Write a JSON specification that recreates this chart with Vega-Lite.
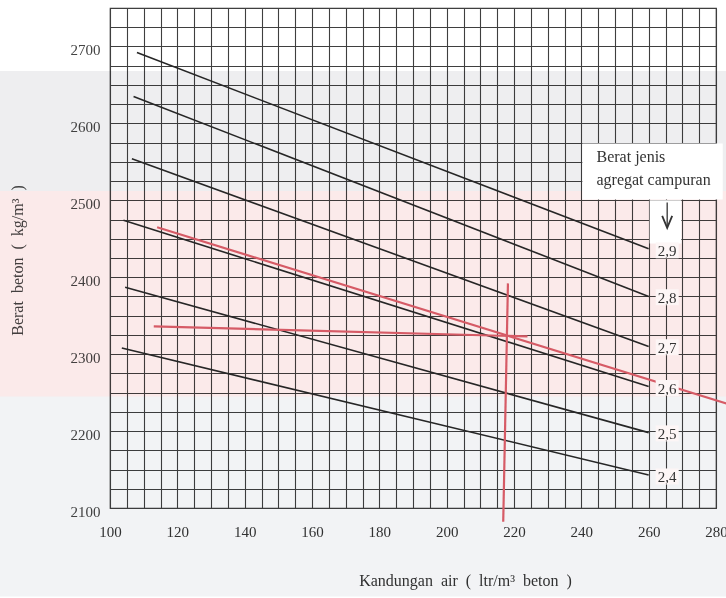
{
  "$schema": "https://vega.github.io/schema/vega-lite/v6.json",
  "width": 606,
  "height": 500,
  "autosize": {"type": "none"},
  "padding": {"left": 110, "top": 8, "right": 10, "bottom": 90},
  "background": "#ffffff",
  "config": {
    "view": {"stroke": "#3a3a3a", "strokeWidth": 1.2},
    "font": "Liberation Serif"
  },
  "datasets": {
    "tints": [
      {"band": "gray", "x": 67, "x2": 287, "y": 2512, "y2": 2668},
      {"band": "pink", "x": 67, "x2": 287, "y": 2245, "y2": 2512},
      {"band": "light", "x": 67, "x2": 287, "y": 1985, "y2": 2245}
    ],
    "curves": [
      {"s": "2,9", "x": 108, "y": 2692}, {"s": "2,9", "x": 260, "y": 2437},
      {"s": "2,8", "x": 107, "y": 2635}, {"s": "2,8", "x": 260, "y": 2375},
      {"s": "2,7", "x": 106.5, "y": 2554}, {"s": "2,7", "x": 260, "y": 2310},
      {"s": "2,6", "x": 104, "y": 2474}, {"s": "2,6", "x": 260, "y": 2258},
      {"s": "2,5", "x": 104.5, "y": 2387}, {"s": "2,5", "x": 260, "y": 2198},
      {"s": "2,4", "x": 103.5, "y": 2308}, {"s": "2,4", "x": 260, "y": 2143}
    ],
    "red": [
      {"id": "a", "x": 114, "y": 2465}, {"id": "a", "x": 286, "y": 2232},
      {"id": "b", "x": 113, "y": 2336}, {"id": "b", "x": 224, "y": 2323},
      {"id": "c", "x": 218.2, "y": 2392}, {"id": "c", "x": 216.8, "y": 2082}
    ],
    "labels": [
      {"t": "2,9", "x": 265.5, "y": 2435},
      {"t": "2,8", "x": 265.5, "y": 2374},
      {"t": "2,7", "x": 265.5, "y": 2309},
      {"t": "2,6", "x": 265.5, "y": 2256},
      {"t": "2,5", "x": 265.5, "y": 2197},
      {"t": "2,4", "x": 265.5, "y": 2141}
    ],
    "covers": [
      {"x": 240.3, "x2": 282, "y": 2501, "y2": 2574},
      {"x": 260.3, "x2": 269.7, "y": 2444, "y2": 2500}
    ],
    "boxtext": [
      {"t": "Berat jenis", "x": 244.5, "y": 2556},
      {"t": "agregat campuran", "x": 244.5, "y": 2526}
    ],
    "arrow": [
      {"x": 265.5, "y": 2497, "y2": 2467}
    ],
    "arrowhead": [
      {"x": 265.5, "y": 2472}
    ]
  },
  "encoding": {
    "x": {
      "field": "x", "type": "quantitative",
      "scale": {"domain": [100, 280], "nice": false, "zero": false},
      "axis": {
        "values": [100,105,110,115,120,125,130,135,140,145,150,155,160,165,170,175,180,185,190,195,200,205,210,215,220,225,230,235,240,245,250,255,260,265,270,275,280],
        "labelExpr": "datum.value % 20 === 0 ? '' + datum.value : ''",
        "grid": true, "gridColor": "#3f3f3f", "gridOpacity": 1, "gridWidth": 1.1,
        "ticks": false, "domain": false,
        "labelFont": "Liberation Serif", "labelFontSize": 15, "labelColor": "#333333",
        "labelPadding": 16, "labelOverlap": false, "labelBound": false, "labelFlush": false,
        "title": "Kandungan\u00a0\u00a0air\u00a0\u00a0(\u00a0\u00a0ltr/m³\u00a0\u00a0beton\u00a0\u00a0)",
        "titleFont": "Liberation Serif", "titleFontSize": 16, "titleFontWeight": "normal",
        "titleColor": "#333333", "titleX": 355, "titleY": 72, "titleBaseline": "middle", "titleAlign": "center"
      }
    },
    "y": {
      "field": "y", "type": "quantitative",
      "scale": {"domain": [2100, 2750], "nice": false, "zero": false},
      "axis": {
        "values": [2100,2125,2150,2175,2200,2225,2250,2275,2300,2325,2350,2375,2400,2425,2450,2475,2500,2525,2550,2575,2600,2625,2650,2675,2700,2725,2750],
        "labelExpr": "datum.value % 100 === 0 && datum.value < 2750 ? '' + datum.value : ''",
        "grid": true, "gridColor": "#3f3f3f", "gridOpacity": 1, "gridWidth": 1.1,
        "ticks": false, "domain": false,
        "labelFont": "Liberation Serif", "labelFontSize": 15, "labelColor": "#444444",
        "labelPadding": 10, "labelOffset": 3, "labelOverlap": false, "labelBound": false,
        "title": "Berat\u00a0\u00a0beton\u00a0\u00a0(\u00a0\u00a0kg/m³\u00a0\u00a0)",
        "titleFont": "Liberation Serif", "titleFontSize": 16, "titleFontWeight": "normal",
        "titleColor": "#444444", "titleX": -85, "titleY": 252, "titleAngle": 270,
        "titleBaseline": "bottom", "titleAlign": "center"
      }
    }
  },
  "layer": [
    {
      "data": {"name": "tints"},
      "mark": {"type": "rect", "stroke": null, "clip": false, "blend": "multiply", "opacity": 1},
      "encoding": {
        "x2": {"field": "x2"}, "y2": {"field": "y2"},
        "fill": {
          "field": "band", "type": "nominal", "legend": null,
          "scale": {"domain": ["gray", "pink", "light"], "range": ["#eeeef0", "#fbeaea", "#f2f3f5"]}
        }
      }
    },
    {
      "data": {"name": "covers"},
      "mark": {"type": "rect", "fill": "#ffffff", "stroke": null},
      "encoding": {"x2": {"field": "x2"}, "y2": {"field": "y2"}}
    },
    {
      "data": {"name": "curves"},
      "mark": {"type": "line", "color": "#262626", "strokeWidth": 1.6, "clip": false},
      "encoding": {"detail": {"field": "s"}}
    },
    {
      "data": {"name": "red"},
      "mark": {"type": "line", "color": "#d65b66", "strokeWidth": 2.2, "clip": false},
      "encoding": {"detail": {"field": "id"}}
    },
    {
      "data": {"name": "labels"},
      "mark": {"type": "point", "shape": "M-1.15,-0.8H1.15V0.8H-1.15Z", "size": 400, "filled": true, "fill": "#fdf6f6", "opacity": 1, "strokeWidth": 0}
    },
    {
      "data": {"name": "labels"},
      "mark": {"type": "text", "font": "Liberation Serif", "fontSize": 15, "color": "#333333", "align": "center", "baseline": "middle", "dy": 1},
      "encoding": {"text": {"field": "t"}}
    },
    {
      "data": {"name": "boxtext"},
      "mark": {"type": "text", "font": "Liberation Serif", "fontSize": 16, "color": "#333333", "align": "left", "baseline": "middle"},
      "encoding": {"text": {"field": "t"}}
    },
    {
      "data": {"name": "arrow"},
      "mark": {"type": "rule", "color": "#333333", "strokeWidth": 1.3},
      "encoding": {"y2": {"field": "y2"}}
    },
    {
      "data": {"name": "arrowhead"},
      "mark": {"type": "point", "shape": "M-1,-1.2L0,1.2L1,-1.2", "size": 100, "filled": false, "stroke": "#333333", "strokeWidth": 1.8, "opacity": 1}
    }
  ]
}
